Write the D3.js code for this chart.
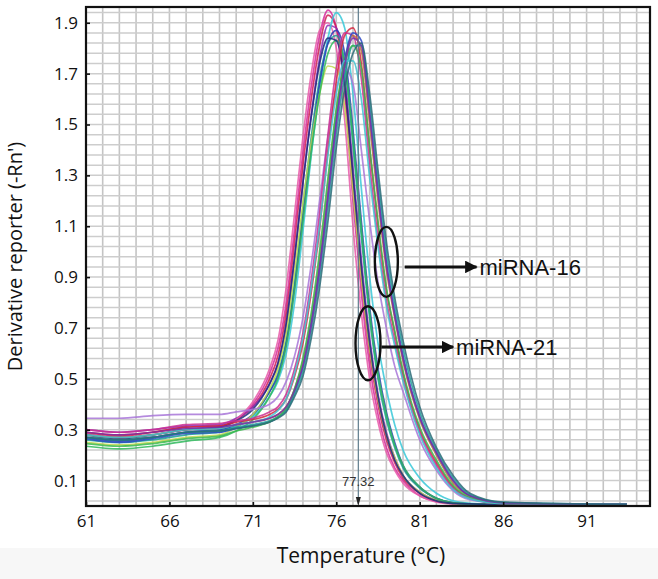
<!DOCTYPE html>
<html>
<head>
<meta charset="utf-8">
<script src="https://cdn.jsdelivr.net/npm/d3@7"></script>
<style>
  html, body { margin: 0; padding: 0; background: #fff; }
  svg { display: block; }
</style>
</head>
<body>
<div class="chart-melt"><svg></svg></div>
<script>
'use strict';

// Temperaturas comunes a todas las curvas (°C)
var temps = [61, 63, 65, 67, 69, 70, 71, 72, 72.5, 73, 73.5, 74, 74.5, 75, 75.5, 76, 76.5, 77, 77.5, 78, 78.5, 79, 79.5, 80, 81, 82, 83, 84, 86, 93.4];

// miRNA-21 (pico ~75.5 °C)
var mir21_1 = [0.285, 0.27, 0.28, 0.30, 0.31, 0.34, 0.40, 0.52, 0.62, 0.80, 1.09, 1.39, 1.65, 1.85, 1.95, 1.88, 1.62, 1.20, 0.84, 0.55, 0.36, 0.23, 0.15, 0.10, 0.04, 0.018, 0.01, 0.008, 0.006, 0.006];
var mir21_2 = [0.29, 0.275, 0.29, 0.31, 0.315, 0.34, 0.39, 0.50, 0.59, 0.76, 1.04, 1.34, 1.60, 1.81, 1.93, 1.88, 1.66, 1.26, 0.90, 0.60, 0.40, 0.26, 0.17, 0.11, 0.05, 0.02, 0.01, 0.008, 0.006, 0.006];
var mir21_3 = [0.30, 0.29, 0.30, 0.315, 0.32, 0.345, 0.39, 0.48, 0.56, 0.71, 0.97, 1.27, 1.54, 1.76, 1.89, 1.88, 1.70, 1.33, 0.97, 0.66, 0.44, 0.29, 0.19, 0.12, 0.055, 0.022, 0.01, 0.008, 0.006, 0.006];
var mir21_4 = [0.27, 0.26, 0.27, 0.29, 0.30, 0.34, 0.41, 0.54, 0.65, 0.86, 1.15, 1.45, 1.70, 1.87, 1.90, 1.80, 1.52, 1.10, 0.76, 0.50, 0.33, 0.21, 0.14, 0.09, 0.04, 0.015, 0.008, 0.006, 0.006, 0.006];
var mir21_5 = [0.26, 0.25, 0.26, 0.28, 0.29, 0.31, 0.355, 0.45, 0.52, 0.65, 0.88, 1.17, 1.45, 1.68, 1.82, 1.85, 1.74, 1.42, 1.06, 0.74, 0.50, 0.34, 0.23, 0.15, 0.07, 0.03, 0.012, 0.008, 0.006, 0.006];
var mir21_6 = [0.27, 0.26, 0.27, 0.29, 0.30, 0.315, 0.35, 0.43, 0.49, 0.60, 0.80, 1.08, 1.38, 1.64, 1.84, 1.94, 1.88, 1.62, 1.25, 0.90, 0.64, 0.46, 0.32, 0.22, 0.11, 0.05, 0.02, 0.01, 0.006, 0.006];
var mir21_7 = [0.27, 0.255, 0.27, 0.29, 0.30, 0.32, 0.36, 0.45, 0.51, 0.64, 0.86, 1.14, 1.42, 1.66, 1.82, 1.87, 1.78, 1.48, 1.12, 0.78, 0.54, 0.37, 0.25, 0.16, 0.075, 0.03, 0.012, 0.008, 0.006, 0.006];
var mir21_8 = [0.25, 0.24, 0.25, 0.27, 0.28, 0.31, 0.36, 0.46, 0.54, 0.68, 0.92, 1.19, 1.43, 1.62, 1.73, 1.72, 1.57, 1.24, 0.90, 0.62, 0.42, 0.28, 0.19, 0.12, 0.055, 0.022, 0.01, 0.008, 0.006, 0.006];
var mir21_9 = [0.235, 0.225, 0.235, 0.255, 0.27, 0.295, 0.34, 0.43, 0.50, 0.63, 0.85, 1.12, 1.39, 1.62, 1.78, 1.83, 1.74, 1.45, 1.09, 0.76, 0.52, 0.36, 0.24, 0.16, 0.075, 0.03, 0.012, 0.008, 0.006, 0.006];
var mir21_10 = [0.28, 0.265, 0.28, 0.30, 0.31, 0.335, 0.38, 0.48, 0.56, 0.72, 0.98, 1.27, 1.53, 1.74, 1.84, 1.83, 1.66, 1.30, 0.94, 0.64, 0.43, 0.28, 0.18, 0.12, 0.05, 0.02, 0.01, 0.008, 0.006, 0.006];

// miRNA-16 (pico ~77 °C)
var mir16_1 = [0.345, 0.345, 0.355, 0.36, 0.36, 0.37, 0.38, 0.40, 0.43, 0.49, 0.59, 0.74, 0.95, 1.20, 1.45, 1.64, 1.72, 1.66, 1.40, 1.12, 0.88, 0.70, 0.55, 0.45, 0.26, 0.14, 0.06, 0.025, 0.01, 0.008];
var mir16_2 = [0.29, 0.28, 0.29, 0.31, 0.315, 0.33, 0.34, 0.36, 0.38, 0.42, 0.51, 0.64, 0.84, 1.09, 1.40, 1.67, 1.85, 1.88, 1.74, 1.40, 1.10, 0.85, 0.68, 0.52, 0.30, 0.17, 0.075, 0.032, 0.01, 0.006];
var mir16_3 = [0.30, 0.29, 0.30, 0.32, 0.325, 0.335, 0.345, 0.37, 0.39, 0.44, 0.54, 0.68, 0.89, 1.15, 1.46, 1.72, 1.86, 1.85, 1.68, 1.34, 1.05, 0.81, 0.65, 0.50, 0.29, 0.16, 0.07, 0.03, 0.01, 0.006];
var mir16_4 = [0.28, 0.27, 0.28, 0.30, 0.305, 0.32, 0.33, 0.345, 0.36, 0.39, 0.46, 0.57, 0.74, 0.97, 1.26, 1.55, 1.75, 1.85, 1.79, 1.50, 1.20, 0.93, 0.74, 0.57, 0.34, 0.20, 0.09, 0.04, 0.012, 0.006];
var mir16_5 = [0.265, 0.25, 0.265, 0.285, 0.29, 0.305, 0.315, 0.33, 0.35, 0.38, 0.45, 0.55, 0.72, 0.94, 1.22, 1.52, 1.75, 1.86, 1.83, 1.55, 1.24, 0.96, 0.76, 0.59, 0.35, 0.21, 0.10, 0.04, 0.012, 0.006];
var mir16_6 = [0.27, 0.26, 0.27, 0.29, 0.295, 0.31, 0.32, 0.335, 0.35, 0.375, 0.44, 0.53, 0.69, 0.90, 1.17, 1.46, 1.69, 1.81, 1.81, 1.58, 1.28, 1.00, 0.79, 0.62, 0.37, 0.22, 0.11, 0.045, 0.014, 0.006];
var mir16_7 = [0.245, 0.235, 0.245, 0.265, 0.275, 0.295, 0.31, 0.33, 0.35, 0.385, 0.46, 0.58, 0.76, 1.00, 1.29, 1.56, 1.74, 1.81, 1.72, 1.41, 1.12, 0.86, 0.69, 0.53, 0.31, 0.18, 0.08, 0.035, 0.01, 0.006];
var mir16_8 = [0.28, 0.27, 0.28, 0.30, 0.305, 0.32, 0.33, 0.35, 0.375, 0.42, 0.52, 0.66, 0.86, 1.10, 1.38, 1.62, 1.75, 1.75, 1.60, 1.29, 1.02, 0.79, 0.63, 0.49, 0.28, 0.15, 0.065, 0.028, 0.01, 0.006];
var mir16_9 = [0.29, 0.28, 0.29, 0.305, 0.31, 0.32, 0.33, 0.345, 0.36, 0.39, 0.455, 0.55, 0.71, 0.93, 1.21, 1.50, 1.73, 1.84, 1.81, 1.54, 1.23, 0.95, 0.75, 0.58, 0.35, 0.21, 0.10, 0.04, 0.012, 0.006];
var mir16_10 = [0.27, 0.26, 0.27, 0.29, 0.295, 0.305, 0.315, 0.33, 0.345, 0.37, 0.43, 0.51, 0.66, 0.86, 1.12, 1.41, 1.64, 1.78, 1.82, 1.62, 1.32, 1.04, 0.82, 0.65, 0.39, 0.23, 0.12, 0.05, 0.015, 0.006];

var mir21Colors = ['#d62a9c', '#cf1f55', '#8f2db5', '#e85aa8', '#1aa092', '#38c8d8', '#2b3db8', '#bcd84e', '#2fb85c', '#1d2a7e'];
var mir16Colors = ['#a875d8', '#d3283f', '#cb2f92', '#b7743c', '#2d49c4', '#1f9f9c', '#3bb94f', '#40c4d2', '#7b2fa6', '#2a6b78'];

var xTicks = [61, 66, 71, 76, 81, 86, 91];
var yTicks = [0.1, 0.3, 0.5, 0.7, 0.9, 1.1, 1.3, 1.5, 1.7, 1.9];
var markerTemp = 77.32;

function meltChart() {
    var W = 658, H = 579;
    var margin = { top: 7, right: 8, bottom: 73, left: 86 };
    var width = W - margin.left - margin.right;
    var height = H - margin.top - margin.bottom;
    var svg = d3.select('.chart-melt svg').attr('width', W).attr('height', H);
    var scales = {};

    function setupScales() {
        scales.x = d3.scaleLinear().domain([61, 94.8]).range([0, width]);
        scales.y = d3.scaleLinear().domain([0, 1.962]).range([height, 0]);
    }

    function drawGrid(g) {
        var vx = d3.range(62, 95, 1);
        var hy = d3.range(0.02, 1.96, 0.04);
        var grid = g.append('g').attr('class', 'grid');
        grid.selectAll('.gv').data(vx).enter().append('line')
            .attr('x1', function (d) { return scales.x(d); })
            .attr('x2', function (d) { return scales.x(d); })
            .attr('y1', 0).attr('y2', height)
            .attr('stroke', '#c4c4c4').attr('stroke-width', 1.6);
        grid.selectAll('.gh').data(hy).enter().append('line')
            .attr('x1', 0).attr('x2', width)
            .attr('y1', function (d) { return scales.y(d); })
            .attr('y2', function (d) { return scales.y(d); })
            .attr('stroke', '#cdcdcd').attr('stroke-width', 1.5);
    }

    function drawCurves(g) {
        var series = [];
        [mir21_1, mir21_2, mir21_3, mir21_4, mir21_5, mir21_6, mir21_7, mir21_8, mir21_9, mir21_10].forEach(function (v, i) {
            series.push({ values: v, color: mir21Colors[i] });
        });
        [mir16_1, mir16_2, mir16_3, mir16_4, mir16_5, mir16_6, mir16_7, mir16_8, mir16_9, mir16_10].forEach(function (v, i) {
            series.push({ values: v, color: mir16Colors[i] });
        });

        var line = d3.line()
            .x(function (d, i) { return scales.x(temps[i]); })
            .y(function (d) { return scales.y(d); })
            .curve(d3.curveMonotoneX);

        g.append('clipPath').attr('id', 'clip-plot')
            .append('rect').attr('width', width).attr('height', height);

        g.append('g').attr('clip-path', 'url(#clip-plot)')
            .selectAll('path').data(series).enter().append('path')
            .attr('d', function (d) { return line(d.values); })
            .attr('fill', 'none')
            .attr('stroke', function (d) { return d.color; })
            .attr('stroke-width', 1.7)
            .attr('stroke-opacity', 0.85);
    }

    function drawMarker(g) {
        var mx = scales.x(markerTemp);
        g.append('line')
            .attr('x1', mx).attr('x2', mx).attr('y1', 0).attr('y2', height - 2)
            .attr('stroke', '#5f7c8c').attr('stroke-width', 1.2);
        g.append('path')
            .attr('d', 'M' + (mx - 2.5) + ',' + (height - 9) + 'L' + (mx + 2.5) + ',' + (height - 9) + 'L' + mx + ',' + height + 'Z')
            .attr('fill', '#222');
        g.append('text')
            .attr('x', mx).attr('y', height - 20)
            .attr('text-anchor', 'middle')
            .attr('font-family', 'Liberation Sans, Arial, sans-serif')
            .attr('font-size', 13).attr('fill', '#333')
            .text(markerTemp.toFixed(2));
    }

    function drawAxes(g) {
        var axisX = d3.axisBottom(scales.x).tickValues(xTicks).tickSize(-4).tickPadding(9).tickFormat(d3.format('d'));
        var gx = g.append('g').attr('class', 'axis axis-x')
            .attr('transform', 'translate(0,' + height + ')').call(axisX);
        var axisY = d3.axisLeft(scales.y).tickValues(yTicks).tickSize(-4).tickPadding(8).tickFormat(d3.format('.1f'));
        var gy = g.append('g').attr('class', 'axis axis-y').call(axisY);

        [gx, gy].forEach(function (ax) {
            ax.select('.domain').remove();
            ax.selectAll('.tick line').attr('stroke', '#111').attr('stroke-width', 1.6);
            ax.selectAll('.tick text')
                .attr('font-family', 'Open Sans, sans-serif')
                .attr('font-size', 17).attr('fill', '#111');
        });

        g.append('rect')
            .attr('width', width).attr('height', height)
            .attr('fill', 'none').attr('stroke', '#111').attr('stroke-width', 2.2);

        g.append('text')
            .attr('x', width / 2 - 7).attr('y', height + 57)
            .attr('text-anchor', 'middle')
            .attr('font-family', 'Open Sans, sans-serif')
            .attr('font-size', 21).attr('fill', '#111')
            .text('Temperature (°C)');

        g.append('text')
            .attr('transform', 'translate(' + (22 - margin.left) + ',' + (height / 2) + ') rotate(-90)')
            .attr('text-anchor', 'middle')
            .attr('font-family', 'Open Sans, sans-serif')
            .attr('font-size', 20).attr('fill', '#111')
            .text("Derivative reporter (-Rn')");
    }

    function drawNotes(g) {
        var notes = [
            { label: 'miRNA-16', t: 79.0, v: 0.96, rx: 11.5, ry: 35, t1: 80.1, t2: 84.4, av: 0.94 },
            { label: 'miRNA-21', t: 77.9, v: 0.64, rx: 12.5, ry: 37, t1: 78.7, t2: 83.0, av: 0.625 }
        ];
        var defs = svg.append('defs');
        defs.append('marker').attr('id', 'arrow-head')
            .attr('viewBox', '0 0 10 10').attr('refX', 9).attr('refY', 5)
            .attr('markerWidth', 4.2).attr('markerHeight', 4.2)
            .attr('orient', 'auto')
            .append('path').attr('d', 'M0,0L10,5L0,10Z').attr('fill', '#111');

        notes.forEach(function (n) {
            g.append('ellipse')
                .attr('cx', scales.x(n.t)).attr('cy', scales.y(n.v))
                .attr('rx', n.rx).attr('ry', n.ry)
                .attr('fill', 'none').attr('stroke', '#111').attr('stroke-width', 2.4);
            g.append('line')
                .attr('x1', scales.x(n.t1)).attr('x2', scales.x(n.t2))
                .attr('y1', scales.y(n.av)).attr('y2', scales.y(n.av))
                .attr('stroke', '#111').attr('stroke-width', 3)
                .attr('marker-end', 'url(#arrow-head)');
            g.append('text')
                .attr('x', scales.x(n.t2) + 3).attr('y', scales.y(n.av) + 8)
                .attr('font-family', 'Liberation Sans, Arial, sans-serif')
                .attr('font-size', 22).attr('fill', '#111')
                .text(n.label);
        });
    }

    setupScales();
    svg.append('rect').attr('width', W).attr('height', H).attr('fill', '#fff');
    svg.append('rect').attr('y', 548).attr('width', W).attr('height', H - 548).attr('fill', '#f7f7f7');
    var g = svg.append('g').attr('transform', 'translate(' + margin.left + ',' + margin.top + ')');
    drawGrid(g);
    drawCurves(g);
    drawMarker(g);
    drawAxes(g);
    drawNotes(g);
}

meltChart();
</script>
</body>
</html>
